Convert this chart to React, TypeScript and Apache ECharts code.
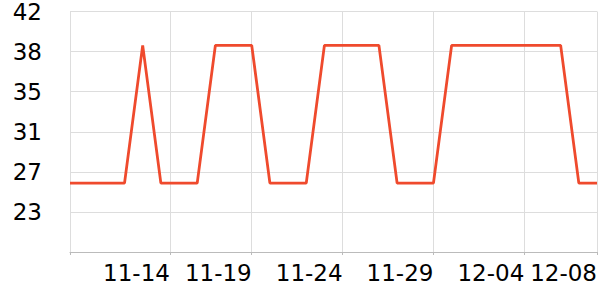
import React, { useEffect, useRef } from "react";
import * as echarts from "echarts";

const startDate = Date.UTC(2023, 10, 9);
const DAY = 86400000;
const LOW = 25.8;
const HIGH = 39;
const values = [
  LOW, LOW, LOW, LOW, HIGH, LOW, LOW, LOW, HIGH, HIGH,
  HIGH, LOW, LOW, LOW, HIGH, HIGH, HIGH, HIGH, LOW, LOW,
  LOW, HIGH, HIGH, HIGH, HIGH, HIGH, HIGH, HIGH, LOW, LOW,
];
const dates = values.map((_, i) => startDate + i * DAY);
const tickDates = [
  Date.UTC(2023, 10, 9),
  Date.UTC(2023, 10, 14, 12),
  Date.UTC(2023, 10, 19),
  Date.UTC(2023, 10, 24),
  Date.UTC(2023, 10, 29),
  Date.UTC(2023, 11, 4),
  Date.UTC(2023, 11, 8),
];
const labelDates = tickDates.slice(1);

const pad = (n: number) => (n < 10 ? "0" + n : "" + n);
const fmt = (v: number) => {
  const d = new Date(v);
  return pad(d.getUTCMonth() + 1) + "-" + pad(d.getUTCDate());
};

export default function App() {
  const ref = useRef<HTMLDivElement>(null);
  useEffect(() => {
    if (!ref.current) return;
    const chart = echarts.init(ref.current, undefined, { renderer: "svg" });
    chart.setOption({
      animation: false,
      grid: { left: 70, right: 0, top: 10, bottom: 48, containLabel: false },
      xAxis: {
        type: "value",
        min: dates[0],
        max: dates[dates.length - 1],
        axisLine: { show: true, lineStyle: { color: "#bbbbbb", width: 1 } },
        axisTick: { show: true, length: 3, lineStyle: { color: "#bbbbbb" }, customValues: tickDates },
        splitLine: { show: true, lineStyle: { color: "#dddddd", width: 1 } },
        axisLabel: {
          customValues: labelDates,
          formatter: (v: number) => fmt(v),
          align: "right",
          margin: 9,
          color: "#000",
          fontSize: 23,
          fontFamily: "DejaVu Sans",
          hideOverlap: false,
        },
      },
      yAxis: {
        type: "value",
        min: 19.2,
        max: 42.24,
        interval: 3.84,
        axisLine: { show: false },
        axisTick: { show: false },
        splitLine: { show: true, lineStyle: { color: "#dddddd", width: 1 } },
        axisLabel: {
          showMinLabel: false,
          formatter: (v: number) => String(Math.round(v)),
          margin: 28,
          color: "#000",
          fontSize: 23,
          lineHeight: 20,
          fontFamily: "DejaVu Sans",
        },
      },
      series: [
        {
          type: "line",
          data: dates.map((d, i) => [d, values[i]]),
          showSymbol: false,
          symbol: "none",
          lineStyle: { color: "#ef4a2d", width: 2.8 },
          itemStyle: { color: "#ef4a2d" },
        },
      ],
    });
    return () => chart.dispose();
  }, []);
  return (
    <div
      ref={ref}
      style={{ position: "fixed", left: 0, top: 0, width: 600, height: 300, background: "#fff" }}
    />
  );
}
